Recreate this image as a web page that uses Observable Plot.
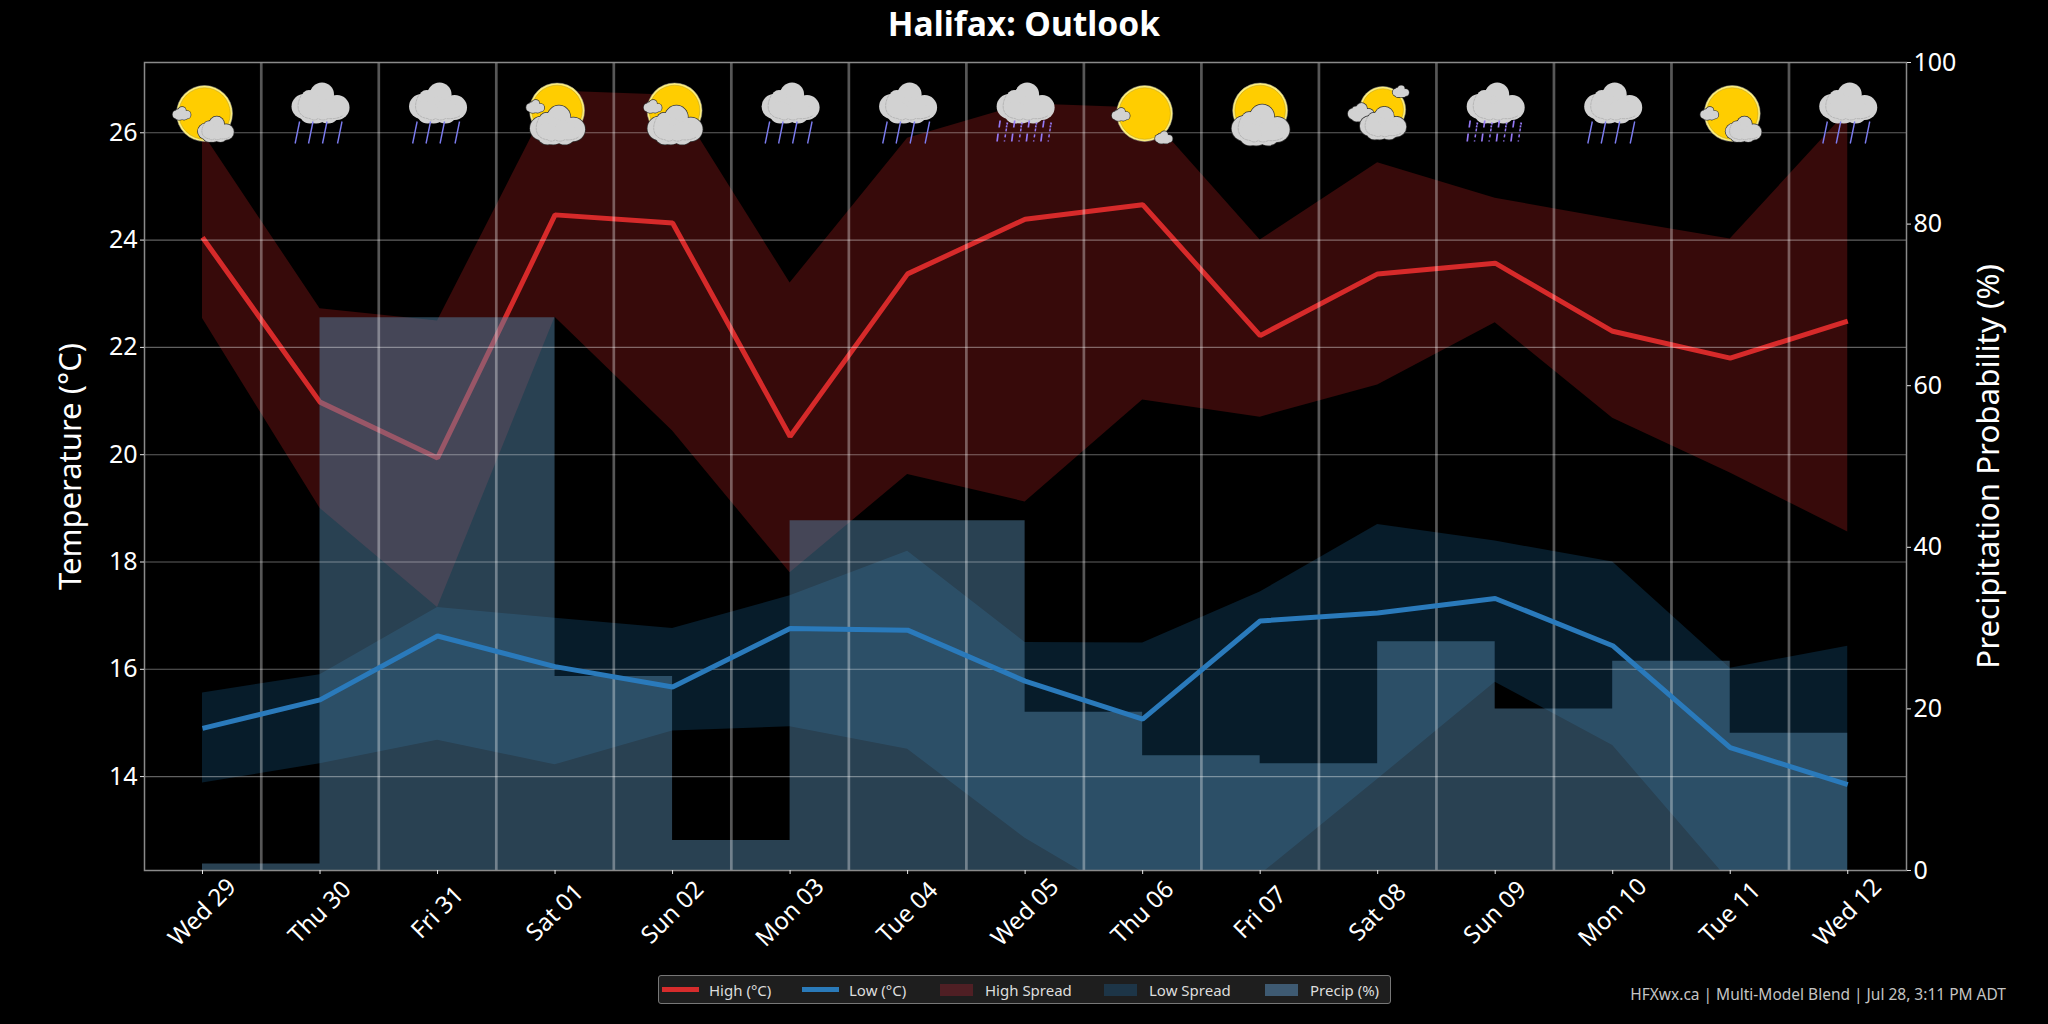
<!DOCTYPE html>
<html>
<head>
<meta charset="utf-8">
<script src="https://cdn.jsdelivr.net/npm/d3@7"></script>
<script src="https://cdn.jsdelivr.net/npm/@observablehq/plot@0.6"></script>
<style>
  html, body { margin: 0; padding: 0; background: #000; }
  body { width: 2048px; height: 1024px; overflow: hidden; font-family: "Noto Sans", sans-serif; color: #fff; position: relative; }
  #title { height: 40px; line-height: 47px; text-align: center; font-size: 33.6px; font-weight: 700; }
  #chart svg { display: block; }
  #legend { position: absolute; left: 658px; top: 975px; width: 733px; height: 29px; box-sizing: border-box;
    background: #1e1e1e; border: 1px solid #777; border-radius: 3px; font-size: 15px; color: #ddd; }
  #legend .it { position: absolute; top: 0; height: 27px; display: flex; align-items: center; white-space: nowrap; }
  #legend .it:nth-child(1) { left: 3px; }
  #legend .it:nth-child(2) { left: 143px; }
  #legend .it:nth-child(3) { left: 281px; }
  #legend .it:nth-child(4) { left: 445px; }
  #legend .it:nth-child(5) { left: 606px; }
  #legend i { display: inline-block; }
  #legend i.line { width: 37px; height: 5px; margin-right: 10px; }
  #legend i.box { width: 33px; height: 12px; margin-right: 12px; }
  #caption { position: absolute; right: 42px; top: 983px; font-size: 15.5px; color: #c4c4c4; white-space: nowrap; }
</style>
</head>
<body>
<div id="title">Halifax: Outlook</div>
<div id="chart"></div>
<div id="legend"></div>
<div id="caption">HFXwx.ca | Multi-Model Blend | Jul 28, 3:11 PM ADT</div>
<script>
const days = ["Wed 29","Thu 30","Fri 31","Sat 01","Sun 02","Mon 03","Tue 04","Wed 05","Thu 06","Fri 07","Sat 08","Sun 09","Mon 10","Tue 11","Wed 12"];
const highT = [24.05,20.98,19.94,24.47,24.32,20.34,23.37,24.39,24.66,22.22,23.37,23.57,22.30,21.80,22.49];
const lowT = [14.90,15.43,16.62,16.05,15.67,16.76,16.73,15.78,15.07,16.90,17.05,17.32,16.44,14.54,13.85];
const highMax = [26.00,22.72,22.49,26.78,26.70,23.20,25.90,26.54,26.46,24.00,25.44,24.78,24.39,24.02,26.40];
const highMin = [22.54,19.00,17.15,22.56,20.44,17.80,19.63,19.12,21.02,20.70,21.30,22.46,20.68,19.66,18.56];
const lowMax = [15.56,15.90,17.15,16.95,16.76,17.37,18.20,16.50,16.49,17.44,18.70,18.39,18.00,16.02,16.43];
const lowMin = [13.88,14.24,14.68,14.22,14.85,14.93,14.51,12.85,11.56,12.17,13.95,15.76,14.58,12.04,11.90];
const precip = [0.8,68.4,68.4,24.0,3.7,43.3,43.3,19.6,14.2,13.2,28.3,20.0,25.9,17.0,20.7];
const icons = ["fairCloud","rain","rain","partly","partly","rain","rain","sleet","fair","partlyPlain","cloudySun","sleet","rain","fairCloud","rain"];
const tempTicks = [14,16,18,20,22,24,26];
const precipTicks = [0,20,40,60,80,100];
const legendLabels = ["High (°C)","Low (°C)","High Spread","Low Spread","Precip (%)"];
const legendKinds = ["line","line","box","box","box"];
const legendColors = ["#d62c2c","#2a7ab9","#4f1f24","#1d3547","#3e5a72"];

const yMin = 12.25, yMax = 27.31;
const pToT = p => yMin + p / 100 * (yMax - yMin);
const table = days.map((day, i) => ({
  i, day, high: highT[i], low: lowT[i], hMax: highMax[i], hMin: highMin[i],
  lMax: lowMax[i], lMin: lowMin[i], p: pToT(precip[i]), icon: icons[i]
}));

// ---- weather icons, composed as little SVG pictures
const cloudCircles = [[2,-9,12],[0,-3,14],[-16,3,12.5],[17,4,12.5],[-4,6,14],[-11,-6,7.5],[8,8,12],[-10,9,11]];
function cloud(cx, cy, s, edge) {
  const body = (extra, fill) => cloudCircles.map(c => `<circle cx="${c[0]}" cy="${c[1]}" r="${c[2] + extra}" fill="${fill}"/>`).join("");
  const detail = s > 0.5 ? `<path d="M-19,-8C-25,3 -22,14 -10,15Q-6,18 -2,15Q3,18 8,15Q17,16 23,12" fill="none" stroke="#9a9a9a" stroke-width="${0.5 / s}" stroke-dasharray="3 .6"/>` : "";
  return `<g transform="translate(${cx},${cy}) scale(${s})">${edge ? body(0.7 / s, "#333") : ""}${body(0, "#d2d2d2")}${detail}</g>`;
}
function sun(cx, cy, r) {
  return `<circle cx="${cx}" cy="${cy}" r="${r}" fill="#fff07a" stroke="#999" stroke-width=".5"/><circle cx="${cx}" cy="${cy}" r="${r - 2.2}" fill="#ffcd00" stroke="#b89a20" stroke-width=".5"/>`;
}
function rain() {
  const top = [-20.4,-7,7,22];
  return top.map(x => `<line x1="${x}" y1="8" x2="${x - 4.5}" y2="30" stroke="#7c7cf0" stroke-width="1.4"/>`).join("");
}
function sleet() {
  let out = "";
  for (let k = 0; k < 8; k++) {
    const x = -26 + k * 7.3;
    if (k % 2 === 0) {
      out += `<line x1="${x + 1}" y1="7" x2="${x}" y2="14" stroke="#9478f4" stroke-width="1.7"/>`;
      out += `<line x1="${x - 1}" y1="20" x2="${x - 2}" y2="28" stroke="#9478f4" stroke-width="1.7"/>`;
    } else {
      out += `<line x1="${x + 1}" y1="9" x2="${x}" y2="14" stroke="#9478f4" stroke-width="1.7" stroke-dasharray="2 1"/>`;
      out += `<line x1="${x}" y1="15" x2="${x - 2}" y2="28" stroke="#9478f4" stroke-width="1.5" stroke-dasharray="3 3"/>`;
    }
  }
  return out;
}
const iconArt = {
  rain: () => cloud(0,-10,1,false) + rain(),
  sleet: () => cloud(0,-10,1,false) + sleet(),
  fair: () => sun(2,0,28) + cloud(-22,1,.31,true) + cloud(21,24,.3,true),
  fairCloud: () => sun(2,0,28) + cloud(13,16,.62,true) + cloud(-21,0,.31,true),
  partly: () => sun(2,-3,27.5) + cloud(2,12,.95,true) + cloud(-20,-7,.31,true),
  partlyPlain: () => sun(0,-3,27.5) + cloud(0,12,1,true),
  cloudySun: () => sun(5,-4,23) + cloud(23,-22,.28,true) + cloud(-17,-1,.45,true) + cloud(5,10,.8,true)
};
function iconUri(kind) {
  const svg = `<svg xmlns="http://www.w3.org/2000/svg" width="90" height="90" viewBox="-45 -45 90 90">${iconArt[kind]()}</svg>`;
  return "data:image/svg+xml;charset=utf-8," + encodeURIComponent(svg);
}

const tickColor = "#e8e8e8";
const sans = "'Noto Sans', sans-serif";
const plot = Plot.plot({
  width: 2048, height: 920,
  marginTop: 22, marginBottom: 90, marginLeft: 144, marginRight: 142,
  style: {background: "#000", color: "#fff", fontFamily: sans},
  x: {domain: [-0.4936, 14.5], type: "linear"},
  y: {domain: [yMin, yMax], type: "linear"},
  marks: [
    Plot.areaY(table, {x: "i", y1: "hMin", y2: "hMax", fill: "#dc2828", fillOpacity: 0.25, clip: true}),
    Plot.line(table, {x: "i", y: "high", stroke: "#d62a2a", strokeWidth: 5, strokeLinejoin: "miter", strokeLinecap: "butt"}),
    Plot.areaY(table, {x: "i", y1: "lMin", y2: "lMax", fill: "#1f77b4", fillOpacity: 0.23, clip: true}),
    Plot.areaY(table, {x: "i", y1: () => yMin, y2: "p", curve: "step-after", fill: "#5688ac", fillOpacity: 0.48}),
    Plot.ruleY(tempTicks, {stroke: "#fff", strokeOpacity: 0.38, strokeWidth: 1.1}),
    Plot.ruleX(days.slice(1), {x: (d, i) => i + 0.5, stroke: "#fff", strokeOpacity: 0.34, strokeWidth: 2.7}),
    Plot.line(table, {x: "i", y: "low", stroke: "#2a7abb", strokeWidth: 5, strokeLinejoin: "miter", strokeLinecap: "butt"}),
    Plot.frame({stroke: "#8a8a8a", strokeWidth: 1.5}),
    Plot.image(table, {x: "i", frameAnchor: "top", dy: 51, src: d => iconUri(d.icon), width: 90, height: 90}),
    Plot.axisX(table.map(d => d.i), {anchor: "bottom", tickSize: 4, stroke: tickColor, tickFormat: () => null, label: null}),
    Plot.text(table, {x: "i", text: "day", frameAnchor: "bottom", dy: 42, rotate: -45, textAnchor: "middle", lineAnchor: "middle", fontSize: 24, fill: "#fff"}),
    Plot.axisY(tempTicks, {anchor: "left", tickSize: 4, tickPadding: 3, fontSize: 25, stroke: tickColor, fill: "#fff", label: null, tickFormat: d => String(d)}),
    Plot.axisY(precipTicks.map(pToT), {anchor: "right", tickSize: 4, tickPadding: 3, fontSize: 25, stroke: tickColor, fill: "#fff", label: null,
      tickFormat: t => String(Math.round((t - yMin) / (yMax - yMin) * 100))}),
    Plot.text(["Temperature (°C)"], {frameAnchor: "left", dx: -73, rotate: -90, fontSize: 31, fill: "#fff", textAnchor: "middle", lineAnchor: "middle"}),
    Plot.text(["Precipitation Probability (%)"], {frameAnchor: "right", dx: 82, rotate: -90, fontSize: 31.3, fill: "#fff", textAnchor: "middle", lineAnchor: "middle"})
  ]
});
document.getElementById("chart").appendChild(plot);

const legend = document.getElementById("legend");
legendLabels.forEach((label, k) => {
  const el = document.createElement("span");
  el.className = "it";
  const sw = document.createElement("i");
  sw.className = legendKinds[k];
  sw.style.background = legendColors[k];
  el.appendChild(sw);
  el.appendChild(document.createTextNode(label));
  legend.appendChild(el);
});
</script>
</body>
</html>
